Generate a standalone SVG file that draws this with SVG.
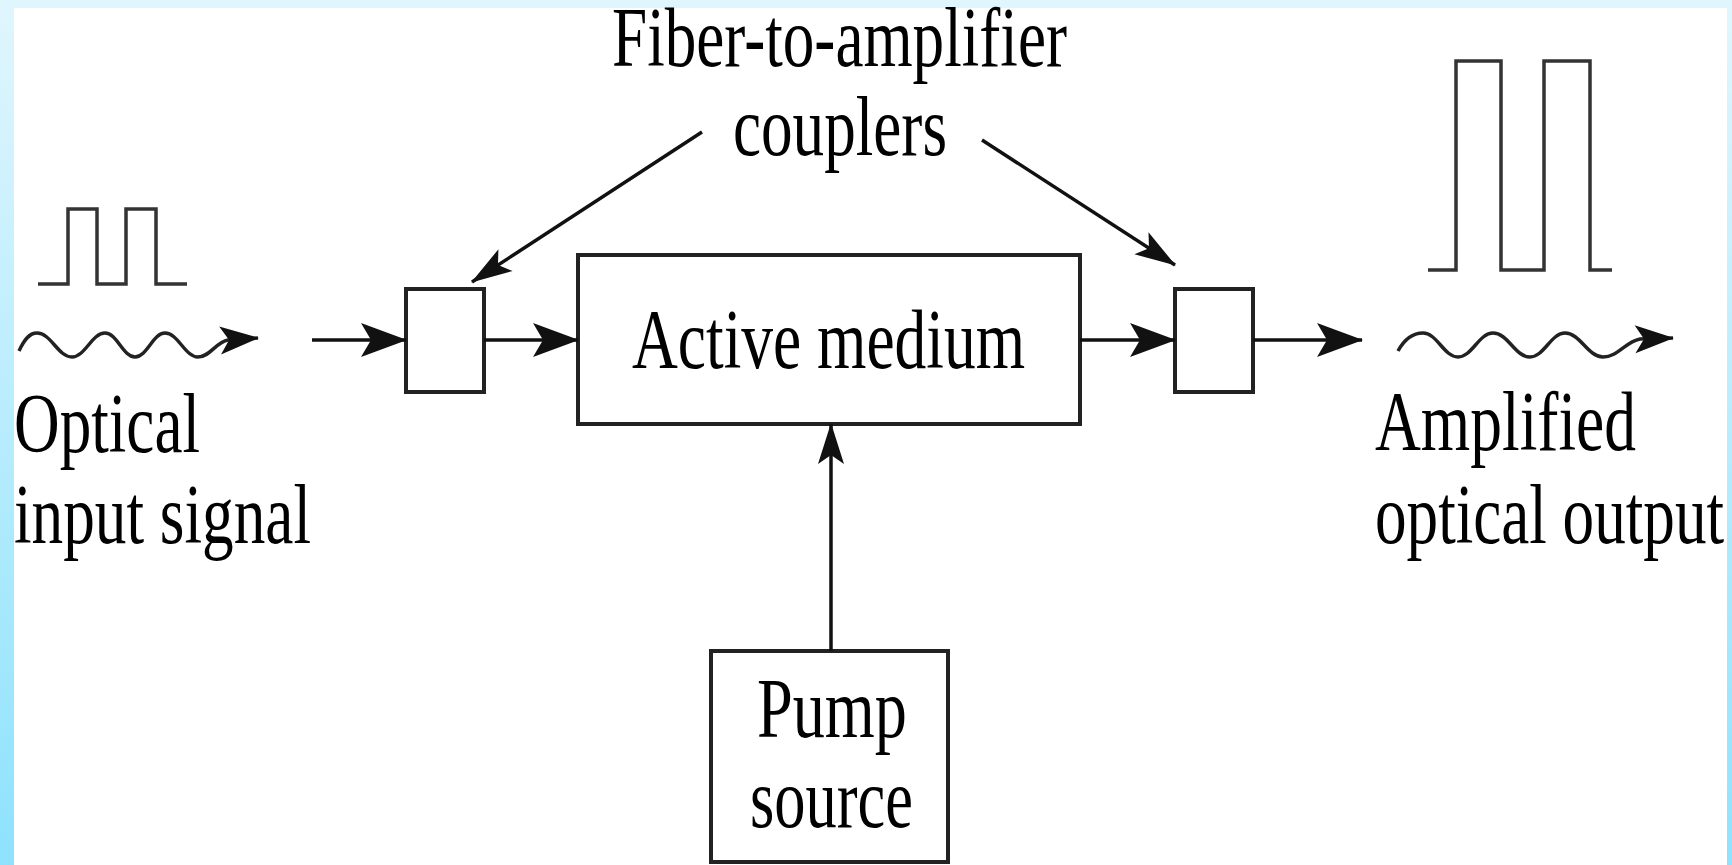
<svg xmlns="http://www.w3.org/2000/svg" width="1732" height="865" viewBox="0 0 1732 865">
  <defs>
    <linearGradient id="bg" x1="0" y1="0" x2="0" y2="1">
      <stop offset="0" stop-color="#e0f6fd"/>
      <stop offset="1" stop-color="#8ee2fe"/>
    </linearGradient>
    <marker id="ahBig" markerUnits="userSpaceOnUse" viewBox="-50 -20 52 40" refX="0" refY="0" markerWidth="52" markerHeight="40" orient="auto" overflow="visible">
      <path d="M1,0 L-45,-17 L-35,0 L-45,17 Z" fill="#111"/>
    </marker>
    <marker id="ahMed" markerUnits="userSpaceOnUse" viewBox="-50 -20 52 40" refX="0" refY="0" markerWidth="52" markerHeight="40" orient="auto" overflow="visible">
      <path d="M1,0 L-40,-13 L-31,0 L-40,13 Z" fill="#111"/>
    </marker>
    <marker id="ahWave" markerUnits="userSpaceOnUse" viewBox="-50 -20 52 40" refX="0" refY="0" markerWidth="52" markerHeight="40" orient="auto" overflow="visible">
      <path d="M1,0 L-38,-14 L-29,0 L-38,14 Z" fill="#111"/>
    </marker>
  </defs>
  <style>
    .box { fill: #ffffff; stroke: #222; stroke-width: 4; }
    .conn { fill: none; stroke: #111; stroke-width: 3.5; }
    .wave { fill: none; stroke: #222; stroke-width: 3.5; }
    .pulse { fill: none; stroke: #333; stroke-width: 3.5; }
    .lbl { font-family: "Liberation Serif", "Times New Roman", serif; font-size: 84px; fill: #000; }
  </style>

  <rect x="0" y="0" width="1732" height="865" fill="url(#bg)"/>
  <rect x="14" y="8" width="1713" height="857" fill="#ffffff"/>

  <g id="input-signal">
    <path class="pulse" d="M38,284 H68 V209 H97 V284 H126 V209 H156 V284 H187"/>
    <path class="wave" marker-end="url(#ahWave)" d="M19,351 C24,340 29,333 37,333 C51,333 58,357 72,357 C85,357 92,333 105,333 C117,333 123,357 135,357 C147,357 153,333 165,333 C178,333 185,357 198,357 C210,357 216,342 228,340 L258,338"/>
    <text class="lbl" x="14" y="452" textLength="186" lengthAdjust="spacingAndGlyphs">Optical</text>
    <text class="lbl" x="14" y="543" textLength="297" lengthAdjust="spacingAndGlyphs">input signal</text>
  </g>

  <g id="coupler-in">
    <rect class="box" x="406" y="289" width="78" height="103"/>
  </g>

  <g id="active-medium">
    <rect class="box" x="578" y="255" width="502" height="169"/>
    <text class="lbl" x="632" y="368" textLength="393" lengthAdjust="spacingAndGlyphs">Active medium</text>
  </g>

  <g id="coupler-out">
    <rect class="box" x="1175" y="289" width="78" height="103"/>
  </g>

  <g id="pump-source">
    <rect class="box" x="711" y="651" width="237" height="211"/>
    <text class="lbl" x="757" y="737" textLength="150" lengthAdjust="spacingAndGlyphs">Pump</text>
    <text class="lbl" x="750" y="827" textLength="163" lengthAdjust="spacingAndGlyphs">source</text>
  </g>

  <g id="couplers-label">
    <text class="lbl" x="612" y="66" textLength="455" lengthAdjust="spacingAndGlyphs">Fiber-to-amplifier</text>
    <text class="lbl" x="733" y="155" textLength="214" lengthAdjust="spacingAndGlyphs">couplers</text>
  </g>

  <g id="output-signal">
    <path class="pulse" d="M1428,270 H1456 V61 H1501 V270 H1544 V61 H1590 V270 H1612"/>
    <path class="wave" marker-end="url(#ahWave)" d="M1398,351 C1404,340 1412,333 1423,333 C1437,333 1444,357 1458,357 C1472,357 1479,333 1493,333 C1508,333 1515,357 1530,357 C1544,357 1551,333 1565,333 C1580,333 1588,357 1603,357 C1618,357 1625,342 1640,339 L1673,338"/>
    <text class="lbl" x="1375" y="450" textLength="261" lengthAdjust="spacingAndGlyphs">Amplified</text>
    <text class="lbl" x="1375" y="543" textLength="349" lengthAdjust="spacingAndGlyphs">optical output</text>
  </g>

  <g id="connectors">
    <line class="conn" x1="312" y1="340" x2="406" y2="340" marker-end="url(#ahBig)"/>
    <line class="conn" x1="484" y1="340" x2="578" y2="340" marker-end="url(#ahBig)"/>
    <line class="conn" x1="1080" y1="340" x2="1175" y2="340" marker-end="url(#ahBig)"/>
    <line class="conn" x1="1253" y1="340" x2="1362" y2="340" marker-end="url(#ahBig)"/>
    <line class="conn" x1="831" y1="651" x2="831" y2="424" marker-end="url(#ahMed)"/>
    <line class="conn" x1="702" y1="132" x2="472" y2="282" marker-end="url(#ahMed)"/>
    <line class="conn" x1="982" y1="140" x2="1175" y2="265" marker-end="url(#ahMed)"/>
  </g>

  <rect x="1727" y="0" width="5" height="865" fill="url(#bg)"/>
</svg>
